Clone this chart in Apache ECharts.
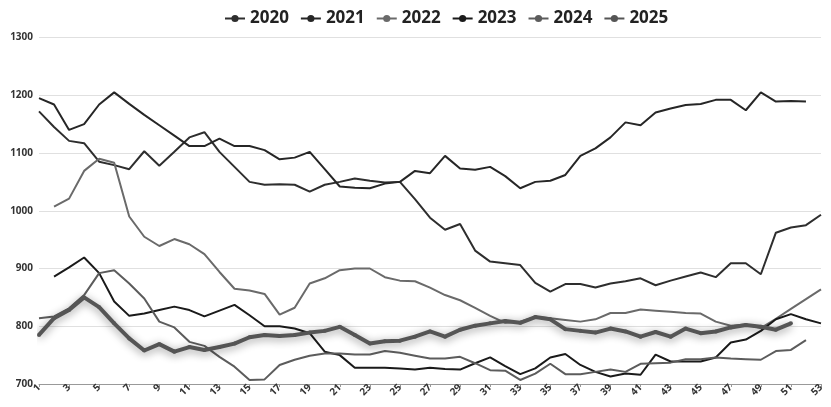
<!DOCTYPE html>
<html>
<head>
<meta charset="utf-8">
<script src="https://cdn.jsdelivr.net/npm/echarts@6/dist/echarts.min.js"></script>
<style>
html,body{margin:0;padding:0;background:#fff;}
#chart{width:831px;height:407px;}
</style>
</head>
<body>
<div id="chart"></div>
<script>
const weeks = Array.from({length: 53}, (_, i) => String(i + 1));
const yTicks = [700, 800, 900, 1000, 1100, 1200, 1300];

const s2020 = [1172,1145,1121,1117,1085,1079,1072,1103,1078,1102,1127,1136,1102,1076,1050,1045,1046,1045,1033,1045,1050,1056,1052,1049,1050,1020,988,967,977,931,912,909,906,875,860,873,873,867,874,878,883,871,879,886,893,885,909,909,890,962,971,975,993];
const s2021 = [1195,1184,1140,1150,1184,1205,1185,1166,1148,1130,1112,1112,1125,1112,1112,1105,1089,1092,1102,1072,1042,1040,1039,1047,1050,1069,1065,1095,1073,1071,1076,1060,1039,1050,1052,1062,1095,1108,1127,1153,1148,1170,1177,1183,1185,1192,1192,1174,1205,1189,1190,1189,null];
const s2022 = [null,1007,1021,1069,1090,1083,990,955,939,951,942,925,894,865,862,856,820,832,874,883,897,900,900,885,879,878,867,854,845,832,818,806,808,816,814,811,808,812,823,823,829,827,825,823,822,808,801,803,797,813,830,847,864];
const s2023 = [null,886,902,919,892,843,818,822,828,834,828,817,827,837,819,800,800,796,788,756,750,728,728,728,727,725,728,726,725,736,746,731,717,727,746,752,733,721,713,718,716,751,739,739,739,746,772,777,792,812,821,812,805];
const s2024 = [814,817,831,854,892,897,874,848,808,798,773,766,747,730,707,708,733,742,749,753,753,751,751,757,754,749,744,744,747,736,724,723,707,718,735,717,717,721,725,721,735,736,737,743,743,746,744,743,742,757,759,776,null];
const s2025 = [785,814,828,850,833,805,779,758,769,756,764,759,764,770,781,785,783,785,789,792,799,785,770,774,775,782,791,782,794,801,805,809,806,816,812,795,792,789,796,791,782,790,782,796,788,791,798,802,799,794,805];

const seriesNames = ['2020','2021','2022','2023','2024','2025'];
const seriesData = [s2020, s2021, s2022, s2023, s2024, s2025];
const seriesColors = ['#2e2e2e','#262626','#6a6a6a','#1a1a1a','#5c5c5c','#555555'];

const chart = echarts.init(document.getElementById('chart'), null, {renderer: 'canvas'});

const series = seriesNames.map((name, i) => {
  const is25 = name === '2025';
  return {
    name: name,
    type: 'line',
    data: seriesData[i],
    symbol: 'circle',
    symbolSize: is25 ? 4 : 6,
    showSymbol: is25,
    connectNulls: false,
    animation: false,
    z: is25 ? 10 : 2,
    itemStyle: {color: seriesColors[i]},
    lineStyle: is25 ? {
      width: 4, color: seriesColors[i],
      shadowBlur: 8, shadowColor: 'rgba(0,0,0,0.45)', shadowOffsetY: 2
    } : {width: 2, color: seriesColors[i]},
    emphasis: {disabled: true}
  };
});

chart.setOption({
  backgroundColor: '#ffffff',
  animation: false,
  textStyle: {fontFamily: 'Open Sans'},
  legend: {
    data: seriesNames,
    top: 5,
    left: 219,
    itemWidth: 20,
    itemHeight: 9,
    itemGap: 11,
    textStyle: {fontSize: 17, fontWeight: 'bold', color: '#222', fontFamily: 'Open Sans'}
  },
  grid: {left: 39, right: 10, top: 37.5, bottom: 23, containLabel: false},
  xAxis: {
    type: 'category',
    data: weeks,
    boundaryGap: false,
    axisLine: {show: true, lineStyle: {color: '#999', width: 1}},
    axisTick: {show: true, interval: 1, length: 3, lineStyle: {color: '#999'}},
    axisLabel: {interval: 1, rotate: 45, fontSize: 10, fontWeight: 'bold', color: '#333', margin: 2, fontFamily: 'Open Sans'},
    splitLine: {show: false}
  },
  yAxis: {
    type: 'value',
    min: yTicks[0],
    max: yTicks[yTicks.length - 1],
    interval: 100,
    axisLine: {show: false},
    axisTick: {show: false},
    axisLabel: {fontSize: 10, fontWeight: 'bold', color: '#333', margin: 6, fontFamily: 'Open Sans', formatter: v => String(v)},
    splitLine: {show: true, lineStyle: {color: '#e0e0e0', width: 1}}
  },
  series: series
});
</script>
</body>
</html>
